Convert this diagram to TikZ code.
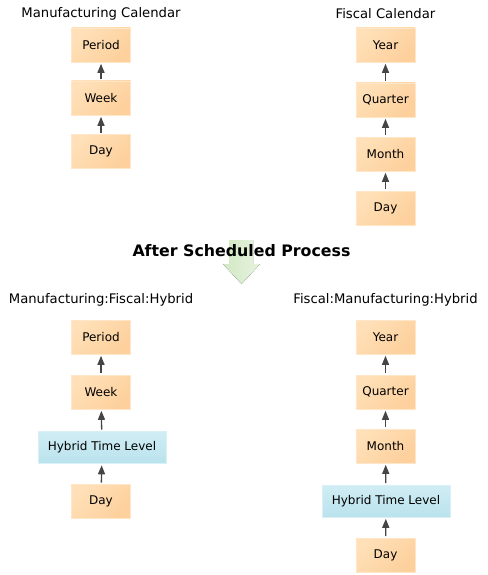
\documentclass[tikz,border=0pt]{standalone}
\usepackage{fontspec}
\setmainfont{DejaVu Sans}
\usetikzlibrary{arrows.meta}

\definecolor{lvllight}{HTML}{FFE0B8}
\definecolor{lvldark}{HTML}{FDD09C}
\definecolor{lvledge}{HTML}{FFE6C9}
\definecolor{hyblight}{HTML}{D0EDF4}
\definecolor{hybdark}{HTML}{BAE3ED}
\definecolor{hybedge}{HTML}{D8F0F6}
\definecolor{arrgray}{HTML}{454545}
\definecolor{greenlight}{HTML}{E6F2DE}
\definecolor{greendark}{HTML}{D2E9C4}

\begin{document}
\begin{tikzpicture}[x=1pt,y=-1pt,
    lvl/.style={draw=lvledge, line width=0.6pt, top color=lvllight, bottom color=lvldark,
        shading angle=45, minimum width=59pt, minimum height=34pt, inner sep=0pt,
        font=\fontsize{12}{14}\selectfont},
    hyb/.style={lvl, draw=hybedge, top color=hyblight, bottom color=hybdark,
        minimum width=128pt, minimum height=32pt},
    up/.style={-{Triangle[length=9pt,width=7pt]}, line width=1.3pt, draw=arrgray,
        shorten <=1.5pt, shorten >=1.5pt},
    headtxt/.style={font=\fontsize{13.2}{15}\selectfont}]

\useasboundingbox (0,0) rectangle (487,575);

% ============================================
% 1. MANUFACTURING CALENDAR
% ============================================
\begin{scope}[shift={(101,0)}]
    \node[headtxt] (mc-title) at (0,14) {Manufacturing Calendar};
    \node[lvl] (mc-period) at (0,45) {Period};
    \node[lvl] (mc-week) at (0,98) {Week};
    \node[lvl] (mc-day) at (0,151.5) {Day};

    \draw[up] (mc-day) -- (mc-week);
    \draw[up] (mc-week) -- (mc-period);
\end{scope}

% ============================================
% 2. FISCAL CALENDAR
% ============================================
\begin{scope}[shift={(385.5,0)}]
    \node[headtxt] (fc-title) at (0,14) {Fiscal Calendar};
    \node[lvl] (fc-year) at (0,45) {Year};
    \node[lvl] (fc-quarter) at (0,100) {Quarter};
    \node[lvl] (fc-month) at (0,154) {Month};
    \node[lvl] (fc-day) at (0,208) {Day};

    \draw[up] (fc-day) -- (fc-month);
    \draw[up] (fc-month) -- (fc-quarter);
    \draw[up] (fc-quarter) -- (fc-year);
\end{scope}

% ============================================
% 3. PROCESS
% ============================================
\fill[left color=greendark, right color=greenlight]
    (229,240) -- (253,240) -- (253,264) -- (260,264) -- (241.5,284)
    -- (223,264) -- (229,264) -- cycle;
\node[font=\fontsize{15.8}{18}\selectfont\bfseries] (process) at (241.5,251)
    {After Scheduled Process};

% ============================================
% 4. MANUFACTURING:FISCAL:HYBRID
% ============================================
\begin{scope}[shift={(101,0)}]
    \node[headtxt] (mf-title) at (0,300) {Manufacturing:Fiscal:Hybrid};
    \node[lvl] (mf-period) at (0,337) {Period};
    \node[lvl] (mf-week) at (0,392) {Week};
    \node[hyb] (mf-hybrid) at (1,447.5) {Hybrid Time Level};
    \node[lvl] (mf-day) at (0,501.5) {Day};

    \draw[up] (mf-day) -- (mf-hybrid);
    \draw[up] (mf-hybrid) -- (mf-week);
    \draw[up] (mf-week) -- (mf-period);
\end{scope}

% ============================================
% 5. FISCAL:MANUFACTURING:HYBRID
% ============================================
\begin{scope}[shift={(385.5,0)}]
    \node[headtxt] (fm-title) at (0,300) {Fiscal:Manufacturing:Hybrid};
    \node[lvl] (fm-year) at (0,337) {Year};
    \node[lvl] (fm-quarter) at (0,392) {Quarter};
    \node[lvl] (fm-month) at (0,446) {Month};
    \node[hyb] (fm-hybrid) at (0.5,501) {Hybrid Time Level};
    \node[lvl] (fm-day) at (0,555) {Day};

    \draw[up] (fm-day) -- (fm-hybrid);
    \draw[up] (fm-hybrid) -- (fm-month);
    \draw[up] (fm-month) -- (fm-quarter);
    \draw[up] (fm-quarter) -- (fm-year);
\end{scope}

\end{tikzpicture}
\end{document}
